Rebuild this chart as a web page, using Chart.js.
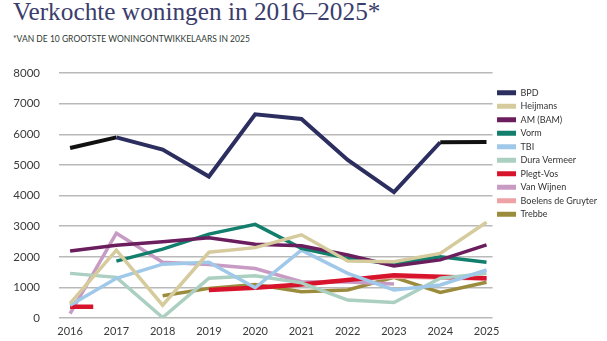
<!DOCTYPE html>
<html>
<head>
<meta charset="utf-8">
<script src="https://cdn.jsdelivr.net/npm/chart.js@4"></script>
<style>
    html, body { margin: 0; background: #fff; overflow: hidden; }
    #wrap { position: relative; width: 607px; height: 341px; overflow: hidden; }
    #title { position: absolute; left: 13px; top: -3px; font-family: "Liberation Serif", serif; font-size: 25.3px; color: #3b3d6c; white-space: nowrap; }
    #subtitle { position: absolute; left: 13px; top: 34px; font-family: Lato, sans-serif; font-size: 8.5px; color: #2f3a33; white-space: nowrap; }
    #myLineChart { position: absolute; left: 0; top: 0; }
</style>
</head>
<body>
<div id="wrap">
    <div id="title">Verkochte woningen in 2016–2025*</div>
    <div id="subtitle">*VAN DE 10 GROOTSTE WONINGONTWIKKELAARS IN 2025</div>
    <canvas id="myLineChart" width="607" height="344"></canvas>
</div>
<script>
    // 年份
    const years = [2016, 2017, 2018, 2019, 2020, 2021, 2022, 2023, 2024, 2025];
    const yTicks = [0, 1000, 2000, 3000, 4000, 5000, 6000, 7000, 8000];

    // 各公司数据
    const bpd = [5550, 5900, 5500, 4620, 6650, 6500, 5160, 4110, 5740, 5750];
    const heijmans = [480, 2220, 420, 2150, 2300, 2720, 1860, 1840, 2110, 3130];
    const amBam = [2190, 2380, 2490, 2620, 2410, 2360, 2060, 1700, 1900, 2390];
    const vorm = [null, 1860, 2250, 2740, 3060, 2280, 1950, 1760, 2000, 1820];
    const tbi = [420, 1300, 1760, 1820, 990, 2220, 1460, 920, 1080, 1570];
    const duraVermeer = [1460, 1330, 20, 1300, 1380, 1150, 590, 510, 1300, 1460];
    const plegtVos = [370, null, null, 920, 990, 1100, 1240, 1400, 1350, 1300];
    const vanWijnen = [150, 2770, 1820, 1750, 1620, 1190, 1180, 1110, null, 1300];
    const boelensDeGruyter = [null, null, null, null, null, 1150, 1230, 1340, 1310, 1280];
    const trebbe = [null, null, 730, 970, 1100, 860, 920, 1330, 840, 1170];

    // 单独的点画成一小段横线
    function toPoints(values, stub) {
        const pts = [];
        values.forEach((v, i) => {
            const alone = v !== null && values[i - 1] == null && values[i + 1] == null;
            if (alone && stub && i === values.length - 1) pts.push({ x: years[i] - stub, y: v });
            pts.push({ x: years[i], y: v });
            if (alone && stub && i < values.length - 1) pts.push({ x: years[i] + stub, y: v });
        });
        return pts;
    }

    function line(label, values, color, width, stub) {
        return {
            label: label,
            data: toPoints(values, stub),
            borderColor: color,
            backgroundColor: color,
            borderWidth: width || 3.5,
            pointRadius: 0,
            tension: 0,
            spanGaps: false,
        };
    }

    const datasets = [
        line('BPD', bpd, '#2c2e60', 4),
        line('Heijmans', heijmans, '#d6cb9d'),
        line('AM (BAM)', amBam, '#6b1e5d'),
        line('Vorm', vorm, '#127e6c'),
        line('TBI', tbi, '#9fc8e9'),
        line('Dura Vermeer', duraVermeer, '#abcfc1'),
        line('Plegt-Vos', plegtVos, '#d8142c', 4.5, 0.5),
        line('Van Wijnen', vanWijnen, '#c89bc4', 3.5, 0.6),
        line('Boelens de Gruyter', boelensDeGruyter, '#eea2a6'),
        line('Trebbe', trebbe, '#9b8b3c'),
    ];
    // BPD 首尾两段是黑色
    datasets[0].segment = {
        borderColor: c => (c.p0DataIndex === 0 || c.p0DataIndex === 8) ? '#111111' : undefined
    };

    const ctx = document.getElementById('myLineChart').getContext('2d');
    const chart = new Chart(ctx, {
        type: 'line',
        data: { datasets: datasets },
        options: {
            responsive: false,
            animation: false,
            layout: { padding: { left: 8, right: 0, top: 73, bottom: 0 } },
            scales: {
                x: {
                    type: 'linear',
                    min: 2015.76,
                    max: 2025.13,
                    afterBuildTicks: s => { s.ticks = years.map(v => ({ value: v })); },
                    afterFit: s => { s.height = 20; },
                    grid: { display: false, drawTicks: false },
                    border: { display: false },
                    ticks: {
                        padding: 7,
                        maxRotation: 0,
                        color: '#3a3a3a',
                        font: { family: 'Lato', size: 11 },
                        callback: v => String(v),
                    },
                },
                y: {
                    min: 0,
                    max: 8000,
                    afterBuildTicks: s => { s.ticks = yTicks.map(v => ({ value: v })); },
                    afterFit: s => { s.width = 51; },
                    grid: { color: '#b9b9b9', lineWidth: 1.5, drawTicks: false },
                    border: { display: false },
                    ticks: {
                        padding: 19,
                        color: '#3a3a3a',
                        font: { family: 'Lato', size: 11.5 },
                        callback: v => String(v),
                    },
                },
            },
            plugins: {
                legend: {
                    position: 'right',
                    align: 'start',
                    fullSize: false,
                    title: { display: true, text: '', font: { size: 9 }, padding: 0 },
                    labels: {
                        boxWidth: 19,
                        boxHeight: 5,
                        padding: 4.5,
                        color: '#333333',
                        font: { family: 'Lato', size: 9 },
                        generateLabels: function (c) {
                            const items = Chart.defaults.plugins.legend.labels.generateLabels(c);
                            items.forEach(it => { it.lineWidth = 0; it.strokeStyle = 'transparent'; });
                            return items;
                        },
                    },
                },
                tooltip: { enabled: false },
            },
        }
    });
</script>
</body>
</html>
